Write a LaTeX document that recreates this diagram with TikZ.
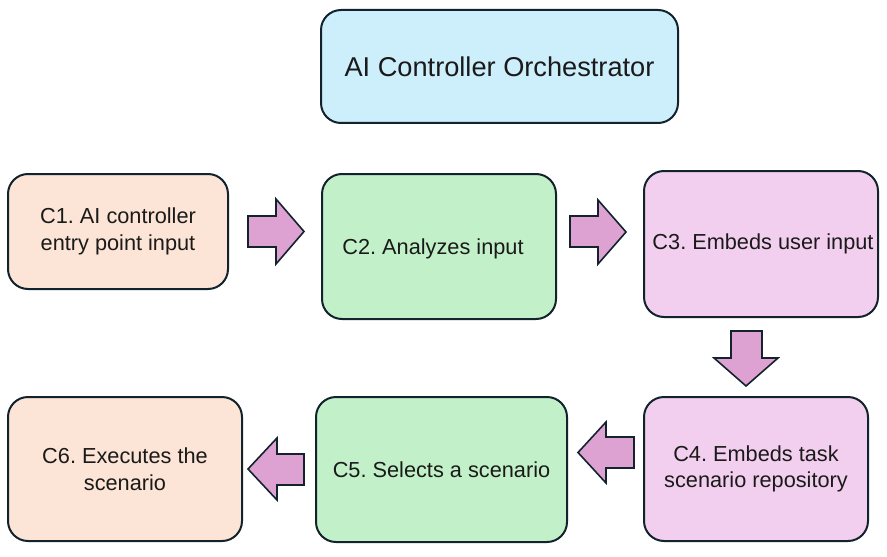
\documentclass[tikz,border=0pt]{standalone}
\usepackage{fontspec}
\setmainfont{Liberation Sans}
\begin{document}
\frenchspacing
\begin{tikzpicture}[x=0.75pt,y=-0.75pt,
  box/.style={draw=bordc,line width=1.5pt,rounded corners=15pt,align=center,font=\fontsize{16.3}{20}\selectfont,text=textc,inner sep=0pt},
  arr/.style={draw=bordc,line width=1.2pt,fill=arrc,line join=miter}]
\definecolor{bordc}{HTML}{13232E}
\definecolor{textc}{HTML}{1A1A1A}
\definecolor{blue1}{HTML}{CDEEFB}
\definecolor{peach}{HTML}{FCE4D6}
\definecolor{green1}{HTML}{C2F0C8}
\definecolor{pink1}{HTML}{F2CFEE}
\definecolor{arrc}{HTML}{DEA2D2}
\useasboundingbox (0,0) rectangle (887,556);
\node[box,fill=blue1,minimum width=357*0.75pt,minimum height=113*0.75pt,font=\fontsize{20.4}{24}\selectfont] (orch) at (499.5,66.5) {AI Controller Orchestrator};
\node[box,fill=peach,minimum width=220*0.75pt,minimum height=115*0.75pt] (c1) at (118,231.5) {C1. AI controller\\entry point input};
\node[box,fill=green1,minimum width=234*0.75pt,minimum height=145*0.75pt] (c2) at (439,246.5) {};
\node[font=\fontsize{16.3}{20}\selectfont,text=textc] (c2t) at (433,249) {C2. Analyzes input};
\node[box,fill=pink1,minimum width=234*0.75pt,minimum height=146*0.75pt] (c3) at (761,244) {};
\node[font=\fontsize{16.3}{20}\selectfont,text=textc] (c3t) at (763,244) {C3. Embeds user input};
\node[box,fill=pink1,minimum width=224*0.75pt,minimum height=144*0.75pt] (c4) at (756,469) {C4. Embeds task\\scenario repository};
\node[box,fill=green1,minimum width=251*0.75pt,minimum height=145*0.75pt] (c5) at (441.5,469.5) {C5. Selects a scenario};
\node[box,fill=peach,minimum width=234*0.75pt,minimum height=144*0.75pt] (c6) at (125,469) {C6. Executes the\\scenario};
% right arrows
\draw[arr] (248,216) -- (276,216) -- (276,199) -- (304,231.5) -- (276,264) -- (276,247) -- (248,247) -- cycle;
\draw[arr] (570,216) -- (598,216) -- (598,200) -- (626,232) -- (598,264) -- (598,247) -- (570,247) -- cycle;
% down arrow
\draw[arr] (731,331) -- (762,331) -- (762,358) -- (778,358) -- (746,386) -- (714,358) -- (731,358) -- cycle;
% left arrows
\draw[arr] (634,437) -- (606,437) -- (606,422) -- (578,452.5) -- (606,483) -- (606,468) -- (634,468) -- cycle;
\draw[arr] (304,454) -- (277,454) -- (277,438) -- (248,469) -- (277,500) -- (277,485) -- (304,485) -- cycle;
\end{tikzpicture}
\end{document}
